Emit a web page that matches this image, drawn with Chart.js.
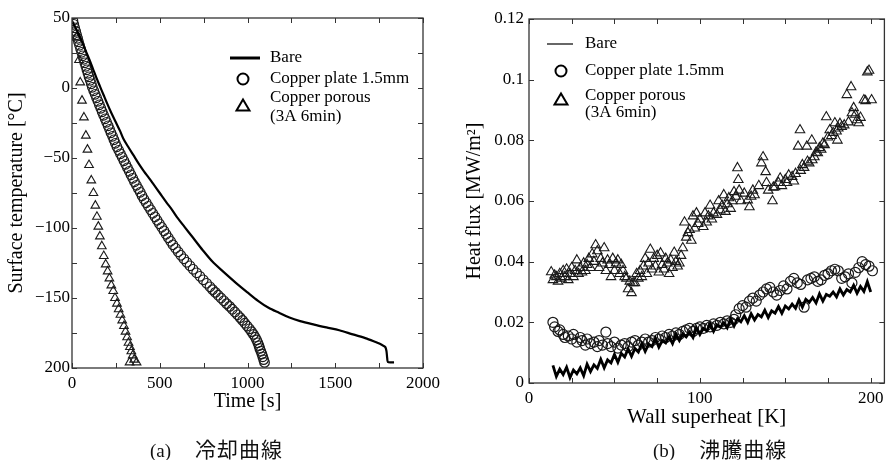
<!DOCTYPE html>
<html>
<head>
<meta charset="utf-8">
<script src="https://cdn.jsdelivr.net/npm/chart.js@4/dist/chart.umd.min.js"></script>
<style>
body{margin:0;background:#fff;width:891px;height:460px;overflow:hidden;position:relative}
canvas{position:absolute;top:0}
#cA{left:0}
#cB{left:445px}
.cap{position:absolute;top:434px;line-height:28px;font-family:"Liberation Serif";font-size:19px;white-space:nowrap;color:#111}
.cap span{font-family:"Noto Sans CJK JP";font-size:21px;margin-left:24px;letter-spacing:1px}
#capA{left:150px}
#capB{left:653px}
</style>
</head>
<body>
<canvas id="cA" width="445" height="460"></canvas>
<canvas id="cB" width="446" height="460"></canvas>
<div class="cap" id="capA">(a)<span>冷却曲線</span></div>
<div class="cap" id="capB">(b)<span>沸騰曲線</span></div>
<script>
// (a) cooling curves : time [s] vs surface temperature [C]
const timeBare = [0,20,40,60,80,100,120,140,160,180,200,225,250,275,292,320,350,380,410,440,460,500,540,570,597,640,690,744,800,860,937,1000,1060,1120,1182,1239,1300,1380,1450,1523,1600,1680,1740,1767,1785,1792,1796,1800,1820,1835];
const tempBare = [48,43,38,32,26,20,13.5,7,1,-5,-11,-18,-24.5,-31,-36,-42,-48,-54,-59.5,-64.5,-68,-75,-82,-87,-92,-99,-107,-115.7,-124,-131,-139.5,-146,-152,-157,-160.7,-164,-166.5,-169,-171,-173,-176,-179,-182,-183.6,-185,-188,-193,-195.7,-196,-196];

const timeCu = [5,10,15,21,26,32,37,43,49,55,61,67,73,79,85,91,97,104,110,116,124,132,140,148,156,164,172,180,189,197,206,214,222,231,239,247,256,266,276,286,296,306,316,326,336,346,356,367,378,389,399,410,423,435,448,460,473,485,498,511,524,536,549,562,575,590,605,620,637,654,672,690,710,729,748,767,786,801,817,833,849,865,881,898,913,928,943,958,972,985,998,1011,1023,1034,1044,1052,1059,1065,1070,1076,1082,1087,1092,1097];
const tempCu = [48,45.5,43,40.5,38,35.5,33,30.5,28,25.5,23,20.5,18,15.5,13,10.5,8,5.5,3,0.5,-2,-4.5,-7,-9.5,-12,-14.5,-17,-19.5,-22,-24.5,-27,-29.5,-32,-34.5,-37,-39.5,-42,-44.5,-47,-49.5,-52,-54.5,-57,-59.5,-62,-64.5,-67,-69.5,-72,-74.5,-77,-79.5,-82,-84.5,-87,-89.5,-92,-94.5,-97,-99.5,-102,-104.5,-107,-109.5,-112,-114.5,-117,-119.5,-122,-124.5,-127,-129.5,-132,-134.5,-137,-139.5,-142,-144,-146,-148,-150,-152,-154,-156,-158,-160,-162,-164,-166,-168,-170,-172,-174,-176,-178,-180,-182,-184,-186,-188,-190,-192,-194,-196];

const timePor = [25,40,47,57,68,79,88,97,110,122,133,142,150,159,170,181,192,203,213,224,235,245,256,266,276,286,296,305,314,322,330,338,346,354,328,368];
const tempPor = [36,20,4,-9,-21,-34,-44,-55,-66,-75,-84,-92,-99,-106,-113,-120,-126,-131,-136,-141,-145,-150,-154,-158,-162,-166,-170,-174,-178,-182,-185,-188,-191,-194,-196,-196];

const timeTicks = [0,250,500,750,1000,1250,1500,1750,2000];
const timeLabels = {0:'0',500:'500',1000:'1000',1500:'1500',2000:'2000'};
const tempTicks = [-200,-175,-150,-125,-100,-75,-50,-25,0,25,50];
const tempLabels = {'-200':'200','-150':'−150','-100':'−100','-50':'−50','0':'0','50':'50'};

// (b) boiling curves : wall superheat [K] vs heat flux [MW/m2]
const shBare = [14,16,18,20,22,24,26,28,30,32,34,36,38,40,42,44,46,48,50,52,54,56,58,60,62,64,66,68,70,72,74,76,78,80,82,84,86,88,90,92,94,96,98,100,102,104,106,108,110,112,114,116,118,120,122,124,126,128,130,132,134,136,138,140,142,144,146,148,150,152,154,156,158,160,162,164,166,168,170,172,174,176,178,180,182,184,186,188,190,192,194,196,198,200];
const fluxBare = [0.0058,0.0022,0.0046,0.0028,0.0052,0.0018,0.0043,0.0030,0.0050,0.0024,0.0062,0.0038,0.0060,0.0048,0.0078,0.0050,0.0076,0.0066,0.0094,0.0068,0.0098,0.0086,0.0112,0.0088,0.0114,0.0102,0.0130,0.0104,0.0128,0.0120,0.0146,0.0118,0.0140,0.0132,0.0152,0.0130,0.0160,0.0140,0.0162,0.0152,0.0168,0.0150,0.0182,0.0160,0.0180,0.0172,0.0194,0.0170,0.0192,0.0184,0.0198,0.0182,0.0210,0.0188,0.0212,0.0202,0.0222,0.0200,0.0228,0.0208,0.0226,0.0218,0.0240,0.0216,0.0238,0.0230,0.0252,0.0230,0.0254,0.0244,0.0260,0.0246,0.0274,0.0250,0.0276,0.0266,0.0282,0.0264,0.0294,0.0270,0.0292,0.0286,0.0300,0.0284,0.0310,0.0290,0.0308,0.0300,0.0322,0.0296,0.0318,0.0302,0.0334,0.0300];

const shCu = [14,15,17,18,20,21,23,25,26,28,30,31,33,34,36,38,40,41,43,45,46,48,50,52,54,56,58,60,62,64,66,68,70,72,74,76,78,80,82,84,86,88,90,92,94,96,98,100,102,104,106,108,110,112,114,116,118,120,121,123,125,127,129,131,133,135,137,139,141,143,145,147,149,151,153,155,157,159,161,163,165,167,169,171,173,175,177,179,181,183,185,187,189,191,193,195,197,199,201];
const fluxCu = [0.020,0.0185,0.017,0.0175,0.016,0.015,0.0155,0.0145,0.016,0.0135,0.015,0.014,0.0125,0.0145,0.013,0.0135,0.012,0.014,0.0125,0.0168,0.013,0.012,0.0135,0.0115,0.0125,0.013,0.012,0.0135,0.014,0.0125,0.0135,0.0145,0.0135,0.014,0.015,0.0145,0.0155,0.015,0.016,0.0155,0.0165,0.016,0.017,0.0175,0.018,0.017,0.018,0.0185,0.018,0.019,0.0185,0.0195,0.019,0.020,0.0195,0.0205,0.020,0.021,0.0225,0.0245,0.0255,0.025,0.027,0.028,0.027,0.029,0.030,0.031,0.0315,0.030,0.029,0.0305,0.032,0.031,0.0335,0.0345,0.033,0.0325,0.025,0.034,0.0345,0.035,0.0335,0.034,0.0355,0.036,0.037,0.0375,0.037,0.0345,0.035,0.036,0.033,0.0365,0.038,0.040,0.039,0.0385,0.037];

const shPor = [13,14,15,16,17,18,19,20,21,22,23,24,25,26,27,28,29,30,31,32,33,34,35,36,37,38,39,40,41,42,43,44,45,46,47,48,49,50,51,52,53,54,55,56,57,58,59,60,61,62,63,64,65,66,67,68,69,70,71,72,73,74,75,76,77,78,79,80,81,82,83,84,85,86,87,88,89,90,91,92,93,94,95,96,97,98,99,100,102,103,104,105,106,107,108,110,111,112,113,114,115,116,117,118,119,120,121,122,122.5,123,124,126,128,129,130,131,132,134.5,136,137,138.5,139,140,142.5,143,144,146,147,148,150,151,152,154,155,156,157.5,158.6,159,160,161,162.6,163,164,165.5,165.8,167,168,169,170,171,172,173,174,175,176,177,178,179,180,180.5,181,182,183,184.5,186,187,188.5,189,190,191,192,193,194,196,197,198,199,200.5];
const fluxPor = [0.0366,0.034,0.0355,0.035,0.0335,0.036,0.0345,0.037,0.035,0.0375,0.034,0.036,0.038,0.035,0.037,0.0405,0.036,0.038,0.0365,0.0395,0.037,0.039,0.041,0.038,0.0425,0.040,0.0455,0.0435,0.038,0.041,0.0395,0.0445,0.037,0.0405,0.039,0.035,0.041,0.037,0.0395,0.0405,0.036,0.039,0.037,0.035,0.0345,0.031,0.0335,0.0297,0.033,0.033,0.036,0.0345,0.037,0.035,0.0385,0.041,0.036,0.0395,0.044,0.0375,0.041,0.0385,0.042,0.0365,0.0428,0.039,0.0375,0.041,0.0395,0.036,0.0405,0.038,0.043,0.040,0.0385,0.0395,0.042,0.0445,0.053,0.048,0.0495,0.0505,0.047,0.055,0.051,0.056,0.0525,0.054,0.0515,0.056,0.053,0.055,0.0585,0.054,0.056,0.0555,0.060,0.057,0.0585,0.062,0.0565,0.059,0.061,0.0575,0.060,0.063,0.0615,0.0709,0.067,0.0635,0.060,0.0625,0.0603,0.058,0.0615,0.0635,0.062,0.065,0.0725,0.0745,0.0696,0.066,0.0635,0.060,0.0645,0.0646,0.066,0.0675,0.065,0.067,0.066,0.0685,0.068,0.0665,0.069,0.078,0.0834,0.070,0.0719,0.071,0.078,0.073,0.0725,0.080,0.0735,0.0745,0.076,0.0758,0.0775,0.077,0.079,0.0785,0.0877,0.081,0.0834,0.0815,0.0825,0.0857,0.083,0.080,0.084,0.0855,0.0845,0.085,0.095,0.086,0.0976,0.089,0.0907,0.0885,0.0867,0.0857,0.0875,0.0933,0.093,0.1025,0.103,0.0933];

const shTicks = [0,25,50,75,100,125,150,175,200];
const shLabels = {0:'0',100:'100',200:'200'};
const fluxTicks = [0,0.02,0.04,0.06,0.08,0.1,0.12];
const fluxLabels = ['0','0.02','0.04','0.06','0.08','0.1','0.12'];

const legendNames = ['Bare','Copper plate 1.5mm','Copper porous','(3A 6min)'];

function pts(xs, ys){ return xs.map((v,i)=>({x:v,y:ys[i]})) }

Chart.defaults.font.family = '"Liberation Serif", "Times New Roman", serif';
Chart.defaults.color = '#000';

// inward ticks + box frame
const frameTicks = {
  id:'frameTicks',
  afterDatasetsDraw(chart){
    const {ctx, chartArea:a, scales:{x,y}} = chart;
    ctx.save();
    ctx.strokeStyle = '#333';
    ctx.lineWidth = 1.3;
    ctx.strokeRect(a.left, a.top, a.right-a.left, a.bottom-a.top);
    ctx.beginPath();
    x.ticks.forEach(t=>{
      let p = Math.round(x.getPixelForValue(t.value))+0.5;
      ctx.moveTo(p,a.bottom); ctx.lineTo(p,a.bottom-5);
      ctx.moveTo(p,a.top); ctx.lineTo(p,a.top+5);
    });
    y.ticks.forEach(t=>{
      let p = Math.round(y.getPixelForValue(t.value))+0.5;
      ctx.moveTo(a.left,p); ctx.lineTo(a.left+5,p);
      ctx.moveTo(a.right,p); ctx.lineTo(a.right-5,p);
    });
    ctx.lineWidth = 1;
    ctx.stroke();
    ctx.restore();
  }
};

const legendBox = {
  id:'legendBox',
  afterDraw(chart, args, o){
    const ctx = chart.ctx;
    ctx.save();
    ctx.fillStyle = '#000'; ctx.strokeStyle = '#000';
    ctx.font = '17px "Liberation Serif"';
    ctx.textBaseline = 'middle';
    ctx.lineWidth = o.lineW;
    ctx.beginPath(); ctx.moveTo(o.lineX[0], o.rows[0]); ctx.lineTo(o.lineX[1], o.rows[0]); ctx.stroke();
    ctx.lineWidth = 2;
    ctx.beginPath(); ctx.arc(o.symX, o.rows[1], 5.5, 0, Math.PI*2); ctx.stroke();
    const ty = o.rows[2], s = 6.5;
    ctx.beginPath(); ctx.moveTo(o.symX, ty-s); ctx.lineTo(o.symX+s*1.0, ty+s*0.7); ctx.lineTo(o.symX-s*1.0, ty+s*0.7); ctx.closePath(); ctx.stroke();
    ctx.fillText(legendNames[0], o.textX, o.rows[0]);
    ctx.fillText(legendNames[1], o.textX, o.rows[1]);
    ctx.fillText(legendNames[2], o.textX, o.rows[3]);
    ctx.fillText(legendNames[3], o.textX, o.rows[4]);
    ctx.restore();
  }
};

function tickSetter(list){ return s => { s.ticks = list.map(v=>({value:v})) } }

new Chart(document.getElementById('cA'), {
  type:'scatter',
  data:{datasets:[
    {data:pts(timeBare,tempBare), showLine:true, borderColor:'#000', borderWidth:2.2, pointRadius:0, tension:0.3},
    {data:pts(timeCu,tempCu), pointStyle:'circle', pointRadius:4.8, borderColor:'#1a1a1a', borderWidth:1.2, backgroundColor:'rgba(255,255,255,0)'},
    {data:pts(timePor,tempPor), pointStyle:'triangle', pointRadius:5, borderColor:'#1a1a1a', borderWidth:1.1, backgroundColor:'rgba(255,255,255,0)'}
  ]},
  options:{
    responsive:false, animation:false, devicePixelRatio:1,
    layout:{padding:{left:0,top:18,right:21,bottom:46}},
    plugins:{legend:{display:false}, tooltip:{enabled:false},
      legendBox:{lineX:[230,260], lineW:3, symX:243, textX:270, rows:[58,79,106,98,117]}},
    scales:{
      x:{type:'linear', min:0, max:2000, afterBuildTicks:tickSetter(timeTicks),
        afterFit:s=>{s.height=46},
        grid:{display:false, drawTicks:false}, border:{display:false},
        ticks:{autoSkip:false, maxRotation:0, padding:5, font:{size:17}, callback:v=>timeLabels[v]||''},
        title:{display:true, text:'Time [s]', font:{size:20}, padding:{top:0,bottom:0}}},
      y:{type:'linear', min:-200, max:50, afterBuildTicks:tickSetter(tempTicks),
        afterFit:s=>{s.width=72},
        grid:{display:false, drawTicks:false}, border:{display:false},
        ticks:{autoSkip:false, padding:2, font:{size:17}, callback:v=>tempLabels[v]||''},
        title:{display:true, text:'Surface temperature [°C]', font:{size:20}, padding:{top:5,bottom:0}}}
    }
  },
  plugins:[frameTicks, legendBox]
});

new Chart(document.getElementById('cB'), {
  type:'scatter',
  data:{datasets:[
    {data:pts(shBare,fluxBare), showLine:true, borderColor:'#000', borderWidth:2.8, pointRadius:0},
    {data:pts(shCu,fluxCu), pointStyle:'circle', pointRadius:5, borderColor:'#1a1a1a', borderWidth:1.2, backgroundColor:'rgba(255,255,255,0)'},
    {data:pts(shPor,fluxPor), pointStyle:'triangle', pointRadius:5.5, borderColor:'#1a1a1a', borderWidth:1.1, backgroundColor:'rgba(255,255,255,0)'}
  ]},
  options:{
    responsive:false, animation:false, devicePixelRatio:1,
    layout:{padding:{left:0,top:19,right:0,bottom:30}},
    plugins:{legend:{display:false}, tooltip:{enabled:false},
      legendBox:{lineX:[102,128], lineW:1.2, symX:116, textX:140, rows:[44,71,100,96,113]}},
    scales:{
      x:{type:'linear', min:0, max:208, afterBuildTicks:tickSetter(shTicks),
        afterFit:s=>{s.height=47},
        grid:{display:false, drawTicks:false}, border:{display:false},
        ticks:{autoSkip:false, maxRotation:0, padding:5, font:{size:17}, callback:v=>shLabels[v]||''},
        title:{display:true, text:'Wall superheat [K]', font:{size:21}, padding:{top:0,bottom:0}}},
      y:{type:'linear', min:0, max:0.12, afterBuildTicks:tickSetter(fluxTicks),
        afterFit:s=>{s.width=84},
        grid:{display:false, drawTicks:false}, border:{display:false},
        ticks:{autoSkip:false, padding:5, font:{size:17}, callback:(v,i)=>fluxLabels[i]},
        title:{display:true, text:'Heat flux [MW/m²]', font:{size:20}, padding:{top:18,bottom:0}}}
    }
  },
  plugins:[frameTicks, legendBox]
});
</script>
</body>
</html>
